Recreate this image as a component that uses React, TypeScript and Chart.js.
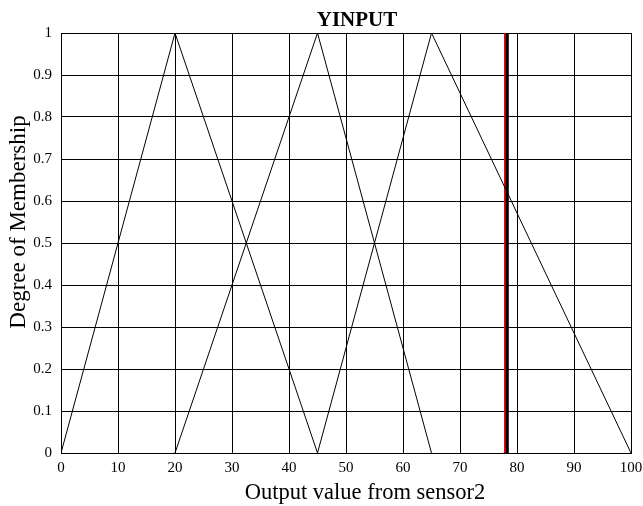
import React, { useEffect, useRef } from "react";
import { Chart, registerables } from "chart.js";

Chart.register(...registerables);

const FONT = "'Liberation Serif', 'Times New Roman', serif";

const chartTitle = "YINPUT";
const xTitle = "Output value from sensor2";
const yTitle = "Degree of Membership";

const xTicks = [0, 10, 20, 30, 40, 50, 60, 70, 80, 90, 100];
const xTickLabels = ["0", "10", "20", "30", "40", "50", "60", "70", "80", "90", "100"];
const yTicks = [0, 0.1, 0.2, 0.3, 0.4, 0.5, 0.6, 0.7, 0.8, 0.9, 1];
const yTickLabels = ["0", "0.1", "0.2", "0.3", "0.4", "0.5", "0.6", "0.7", "0.8", "0.9", "1"];

const mf1X = [0, 20, 45];
const mf1Y = [0, 1, 0];
const mf2X = [20, 45, 65];
const mf2Y = [0, 1, 0];
const mf3X = [45, 65, 100];
const mf3Y = [0, 1, 0];

const cursorBlackX = [78.3, 78.3];
const cursorRedX = [77.9, 77.9];
const cursorY = [0, 1];

const toPts = (xs: number[], ys: number[]) => xs.map((x, i) => ({ x, y: ys[i] }));

const textPlugin = {
  id: "figText",
  afterDraw(chart: any) {
    const ctx = chart.ctx;
    ctx.save();
    ctx.fillStyle = "#000";
    ctx.textAlign = "center";
    ctx.textBaseline = "alphabetic";
    ctx.font = `bold 21px ${FONT}`;
    ctx.fillText(chartTitle, 357, 26);
    ctx.font = `22.5px ${FONT}`;
    ctx.fillText(xTitle, 365, 499);
    ctx.font = `23px ${FONT}`;
    ctx.translate(25, 222);
    ctx.rotate(-Math.PI / 2);
    ctx.fillText(yTitle, 0, 0);
    ctx.restore();
  },
};

export default function App() {
  const ref = useRef<HTMLCanvasElement | null>(null);

  useEffect(() => {
    if (!ref.current) return;
    const lineDs = (xs: number[], ys: number[]) => ({
      data: toPts(xs, ys),
      showLine: true,
      borderColor: "#000",
      borderWidth: 1,
      pointRadius: 0,
      fill: false,
    });
    const chart = new Chart(ref.current, {
      type: "scatter",
      data: {
        datasets: [
          lineDs(mf1X, mf1Y),
          lineDs(mf2X, mf2Y),
          lineDs(mf3X, mf3Y),
          {
            data: toPts(cursorBlackX, cursorY),
            showLine: true,
            borderColor: "#000",
            borderWidth: 3,
            pointRadius: 0,
          },
          {
            data: toPts(cursorRedX, cursorY),
            showLine: true,
            borderColor: "#e00000",
            backgroundColor: "#e00000",
            borderWidth: 2,
            pointRadius: [1.5, 0],
            pointBorderWidth: 0,
          },
        ] as any,
      },
      options: {
        responsive: false,
        animation: false,
        events: [],
        layout: { padding: { top: 33, right: 12, bottom: 0, left: 0 } },
        plugins: {
          legend: { display: false },
          tooltip: { enabled: false },
          title: { display: false },
        },
        scales: {
          x: {
            type: "linear",
            min: 0,
            max: 100,
            afterFit(s: any) {
              s.height = 53;
              s.paddingLeft = 0;
              s.paddingRight = 0;
            },
            afterBuildTicks(s: any) {
              s.ticks = xTicks.map((v) => ({ value: v }));
            },
            ticks: {
              font: { family: FONT, size: 15 },
              color: "#000",
              padding: 6,
              maxRotation: 0,
              autoSkip: false,
              callback: (_v: any, i: number) => xTickLabels[i],
            },
            grid: { color: "#000", lineWidth: 1, drawTicks: false },
            border: { color: "#000", width: 1 },
          },
          y: {
            type: "linear",
            min: 0,
            max: 1,
            afterFit(s: any) {
              s.width = 61;
              s.paddingTop = 0;
              s.paddingBottom = 0;
            },
            afterBuildTicks(s: any) {
              s.ticks = yTicks.map((v) => ({ value: v }));
            },
            ticks: {
              font: { family: FONT, size: 15 },
              color: "#000",
              padding: 9,
              autoSkip: false,
              callback: (_v: any, i: number) => yTickLabels[i],
            },
            grid: { color: "#000", lineWidth: 1, drawTicks: false },
            border: { color: "#000", width: 1 },
          },
        },
      } as any,
      plugins: [textPlugin],
    });
    return () => chart.destroy();
  }, []);

  return (
    <div style={{ position: "absolute", left: 0, top: 0, width: 643, height: 506, background: "#fff" }}>
      <canvas ref={ref} width={643} height={506} />
    </div>
  );
}
